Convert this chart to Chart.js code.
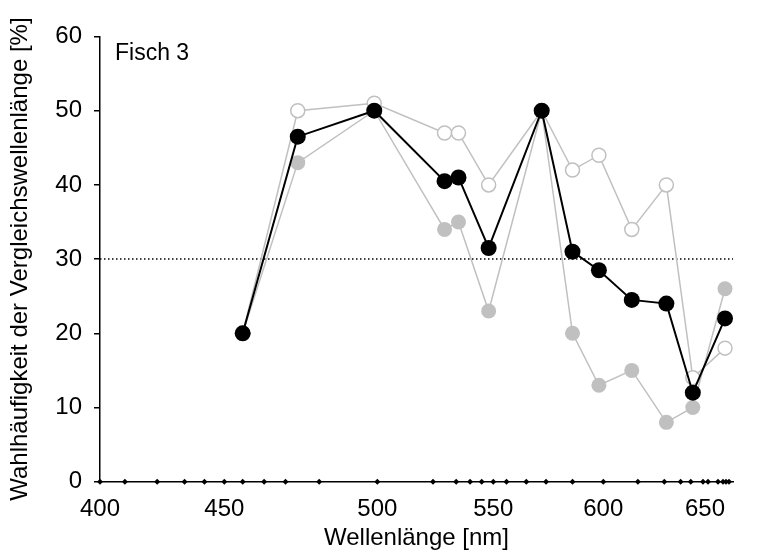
<!DOCTYPE html>
<html>
<head>
<meta charset="utf-8">
<script src="https://cdn.jsdelivr.net/npm/chart.js@4.4.1/dist/chart.umd.min.js"></script>
<style>
  html, body { margin: 0; padding: 0; background: #fff; }
  #wrap { width: 782px; height: 553px; }
</style>
</head>
<body>
<div id="wrap"><canvas id="chart" width="782" height="553"></canvas></div>
<script>
// test wavelengths (nm) and choice frequencies (%)
const wavelengths = [456, 474, 499, 529, 535, 548, 572, 586, 598, 614, 631, 644, 660];
const meanChoice  = [20, 46.5, 50, 40.5, 41, 31.5, 50, 31, 28.5, 24.5, 24, 12, 22];
const openChoice  = [20, 50, 51, 47, 47, 40, 50, 42, 44, 34, 40, 14, 18];
const greyChoice  = [20, 43, 50, 34, 35, 23, 50, 20, 13, 15, 8, 10, 26];

// wavelengths marked along the axis
const axisMarks = [400, 410, 423, 434, 442, 450, 456, 463, 470, 481, 500, 524, 534, 540, 545,
  550, 556, 565, 574, 586, 600, 617, 630, 638, 643, 649, 651.5, 656.5, 659, 660.5, 662];

const xTicks = [400, 450, 500, 550, 600, 650];
const yTicks = [0, 10, 20, 30, 40, 50, 60];
const chanceLevel = 30;
const nmMin = 400, nmMax = 664;

// the wavelength axis is not linear: anchor wavelengths and where they sit (fraction of axis length)
const anchorNm   = [400, 450, 500, 550, 600, 650, 664];
const anchorFrac = [0, 0.1964, 0.4381, 0.6213, 0.7951, 0.9558, 1];

function nmToFrac(v) {
  let i = 0;
  while (i < anchorNm.length - 2 && v > anchorNm[i + 1]) i++;
  const t = (v - anchorNm[i]) / (anchorNm[i + 1] - anchorNm[i]);
  return anchorFrac[i] + t * (anchorFrac[i + 1] - anchorFrac[i]);
}
function fracToNm(f) {
  let i = 0;
  while (i < anchorFrac.length - 2 && f > anchorFrac[i + 1]) i++;
  const t = (f - anchorFrac[i]) / (anchorFrac[i + 1] - anchorFrac[i]);
  return anchorNm[i] + t * (anchorNm[i + 1] - anchorNm[i]);
}

const LinearScale = Chart.registry.getScale('linear');
class WaveScale extends LinearScale {
  buildTicks() {
    return xTicks.map(value => ({ value }));
  }
  getPixelForValue(value) {
    return this.getPixelForDecimal(nmToFrac(value));
  }
  getValueForPixel(pixel) {
    return fracToNm(this.getDecimalForPixel(pixel));
  }
}
WaveScale.id = 'wave';
WaveScale.defaults = LinearScale.defaults;
Chart.register(WaveScale);

const pts = ys => wavelengths.map((x, i) => ({ x, y: ys[i] }));
const FONT = '"Liberation Sans", Arial, Helvetica, sans-serif';
const GREY = 'rgb(192,192,192)';

const fishLabel = {
  id: 'fishLabel',
  afterDraw(chart) {
    const { ctx, chartArea } = chart;
    ctx.save();
    ctx.font = '23px ' + FONT;
    ctx.fillStyle = '#000';
    ctx.textBaseline = 'middle';
    ctx.fillText('Fisch 3', chartArea.left + 15, chartArea.top + 17);
    ctx.restore();
  }
};

new Chart(document.getElementById('chart'), {
  type: 'line',
  data: {
    datasets: [
      {
        label: 'Mittel',
        data: pts(meanChoice),
        borderColor: '#000',
        backgroundColor: '#000',
        borderWidth: 2,
        pointRadius: 8,
        pointBorderWidth: 0,
        pointBackgroundColor: '#000'
      },
      {
        label: 'offen',
        data: pts(openChoice),
        borderColor: GREY,
        borderWidth: 1.5,
        pointRadius: 7,
        pointBorderWidth: 1.5,
        pointBorderColor: GREY,
        pointBackgroundColor: '#fff'
      },
      {
        label: 'grau',
        data: pts(greyChoice),
        borderColor: GREY,
        borderWidth: 1.5,
        pointRadius: 7.5,
        pointBorderWidth: 0,
        pointBackgroundColor: GREY
      },
      {
        label: 'Zufall',
        data: [{ x: nmMin, y: chanceLevel }, { x: nmMax, y: chanceLevel }],
        borderColor: '#000',
        borderWidth: 1.5,
        borderDash: [1.5, 2.5],
        pointRadius: 0
      },
      {
        label: 'Testwellenlängen',
        data: axisMarks.map(x => ({ x, y: 0 })),
        showLine: false,
        pointStyle: 'rectRot',
        pointRadius: 3,
        pointBorderWidth: 0,
        pointBackgroundColor: '#000',
        clip: false
      }
    ]
  },
  options: {
    responsive: false,
    animation: false,
    events: [],
    layout: { padding: { left: 0, right: 49, top: 36.5, bottom: 0 } },
    plugins: {
      legend: { display: false },
      tooltip: { enabled: false }
    },
    scales: {
      x: {
        type: 'wave',
        min: nmMin,
        max: nmMax,
        grid: { display: false },
        border: { display: true, color: '#000', width: 1.5 },
        ticks: {
          autoSkip: false,
          maxRotation: 0,
          padding: 5,
          color: '#000',
          font: { family: FONT, size: 24 },
          callback: v => String(v)
        },
        title: {
          display: true,
          text: 'Wellenlänge [nm]',
          color: '#000',
          font: { family: FONT, size: 24 },
          padding: { top: 1, bottom: 0 }
        },
        afterFit(scale) { scale.height = 71.3; }
      },
      y: {
        min: 0,
        max: 60,
        afterBuildTicks(scale) { scale.ticks = yTicks.map(value => ({ value })); },
        grid: {
          display: true,
          drawOnChartArea: false,
          drawTicks: true,
          tickLength: 6,
          color: '#000',
          lineWidth: 1.5
        },
        border: { display: true, color: '#000', width: 1.5 },
        ticks: {
          padding: 12,
          color: '#000',
          font: { family: FONT, size: 24 }
        },
        title: {
          display: true,
          text: 'Wahlhäufigkeit der Vergleichswellenlänge [%]',
          color: '#000',
          font: { family: FONT, size: 24 },
          padding: { top: 6, bottom: 0 }
        },
        afterFit(scale) { scale.width = 100; }
      }
    }
  },
  plugins: [fishLabel]
});
</script>
</body>
</html>
